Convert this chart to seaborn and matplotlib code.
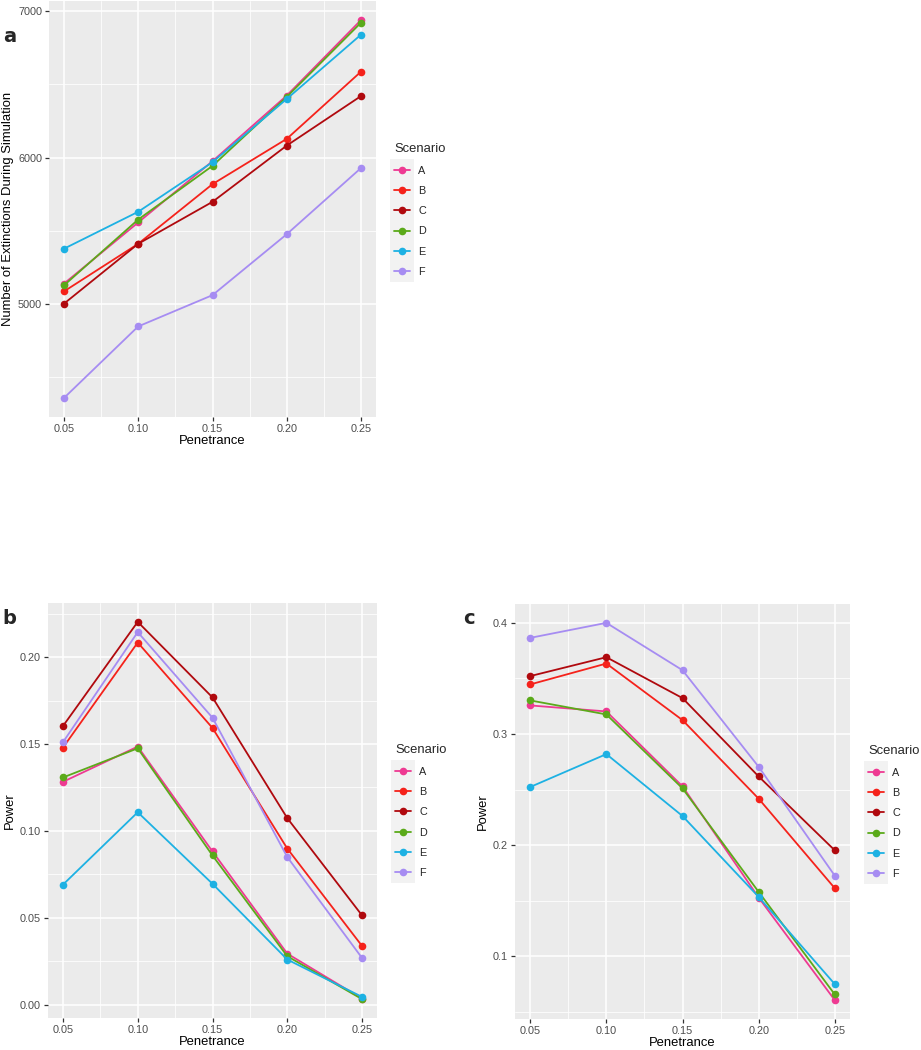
import pandas as pd
import matplotlib.pyplot as plt
import seaborn as sns
from matplotlib.patches import Rectangle

sns.set_theme(style="darkgrid")
plt.rcParams['font.family'] = ['Liberation Sans', 'DejaVu Sans']

# data
penetrance = [0.05, 0.10, 0.15, 0.20, 0.25]
scenarios = ['A', 'B', 'C', 'D', 'E', 'F']
colors = ['#EE3A92', '#F5221B', '#B0090E', '#5BAA1A', '#1DB1E3', '#A68CF2']

# panel a: number of extinctions
ext_A = [5137, 5556, 5975, 6424, 6941]
ext_B = [5084, 5410, 5818, 6128, 6588]
ext_C = [5000, 5410, 5697, 6082, 6421]
ext_D = [5125, 5576, 5943, 6415, 6923]
ext_E = [5376, 5629, 5968, 6401, 6841]
ext_F = [4355, 4845, 5059, 5476, 5929]

# panel b: power
pow_b_A = [0.1282, 0.1485, 0.0881, 0.0293, 0.0034]
pow_b_B = [0.1479, 0.2084, 0.1592, 0.0898, 0.0337]
pow_b_C = [0.1603, 0.2203, 0.1768, 0.1073, 0.0513]
pow_b_D = [0.1307, 0.1475, 0.0858, 0.0278, 0.0031]
pow_b_E = [0.0690, 0.1107, 0.0695, 0.0259, 0.0044]
pow_b_F = [0.1510, 0.2144, 0.1651, 0.0849, 0.0268]

# panel c: power
pow_c_A = [0.3257, 0.3203, 0.2529, 0.1528, 0.0605]
pow_c_B = [0.3446, 0.3634, 0.3125, 0.2418, 0.1612]
pow_c_C = [0.3521, 0.3691, 0.3323, 0.2618, 0.1953]
pow_c_D = [0.3302, 0.3176, 0.2511, 0.1579, 0.0656]
pow_c_E = [0.2523, 0.2819, 0.2262, 0.1534, 0.0749]
pow_c_F = [0.3865, 0.4000, 0.3574, 0.2705, 0.1725]


def to_long(series):
    rows = []
    for sc, vals in zip(scenarios, series):
        for p, v in zip(penetrance, vals):
            rows.append({'Penetrance': p, 'Value': v, 'Scenario': sc})
    return pd.DataFrame(rows)


df_a = to_long([ext_A, ext_B, ext_C, ext_D, ext_E, ext_F])
df_b = to_long([pow_b_A, pow_b_B, pow_b_C, pow_b_D, pow_b_E, pow_b_F])
df_c = to_long([pow_c_A, pow_c_B, pow_c_C, pow_c_D, pow_c_E, pow_c_F])

palette = dict(zip(scenarios, colors))

fig = plt.figure(figsize=(9.21, 10.5), dpi=100)
legends = []


def gg_panel(rect, df, ylabel, yticks, yticklabels, yminor, letter, letter_pos, leg_pos):
    ax = fig.add_axes(rect)
    ax.set_facecolor('#EBEBEB')
    sns.lineplot(data=df, x='Penetrance', y='Value', hue='Scenario', palette=palette,
                 marker='o', markersize=5.5, markeredgewidth=0, linewidth=1.3, ax=ax)

    # ggplot-style 5% expansion
    lo, hi = df['Value'].min(), df['Value'].max()
    pad = (hi - lo) * 0.05
    ax.set_ylim(lo - pad, hi + pad)
    ax.set_xlim(0.04, 0.26)

    ax.set_xticks(penetrance)
    ax.set_xticklabels([f"{p:.2f}" for p in penetrance])
    ax.set_xticks([0.075, 0.125, 0.175, 0.225], minor=True)
    ax.set_yticks(yticks)
    ax.set_yticklabels(yticklabels)
    ax.set_yticks(yminor, minor=True)

    ax.grid(which='major', color='white', linewidth=1.1)
    ax.grid(which='minor', color='white', linewidth=0.55)
    ax.set_axisbelow(True)
    for s in ax.spines.values():
        s.set_visible(False)
    ax.tick_params(axis='both', which='major', direction='out', length=3, width=0.9,
                   color='#333333', labelcolor='#4D4D4D', labelsize=7.8, pad=2,
                   bottom=True, left=True)
    ax.tick_params(axis='both', which='minor', length=0, bottom=False, left=False)

    ax.set_xlabel('Penetrance', fontsize=9.4, color='black', labelpad=1)
    ax.set_ylabel(ylabel, fontsize=9.4, color='black', labelpad=3)

    handles, labels = ax.get_legend_handles_labels()
    leg = ax.legend(handles, labels, title='Scenario', loc='upper left',
                    bbox_to_anchor=leg_pos, bbox_transform=fig.transFigure,
                    frameon=False, fontsize=7.8, title_fontsize=9.4,
                    handlelength=1.4, handletextpad=0.8, labelspacing=0.95,
                    borderaxespad=0, alignment='left')
    legends.append(leg)

    fig.text(letter_pos[0], letter_pos[1], letter, fontsize=14, fontweight='bold',
             ha='left', va='center', family=['DejaVu Sans'])
    return ax


ax_a = gg_panel([49 / 921, 1 - 417 / 1050, 327 / 921, 416 / 1050], df_a,
                'Number of Extinctions During Simulation',
                [5000, 6000, 7000], ['5000', '6000', '7000'], [4500, 5500, 6500],
                'a', (3 / 921, 1 - 37 / 1050), (390 / 921, 1 - 139 / 1050))

ax_b = gg_panel([48 / 921, 1 - 1018 / 1050, 329 / 921, 415 / 1050], df_b,
                'Power',
                [0.0, 0.05, 0.10, 0.15, 0.20], ['0.00', '0.05', '0.10', '0.15', '0.20'],
                [0.025, 0.075, 0.125, 0.175, 0.225],
                'b', (2 / 921, 1 - 618 / 1050), (391 / 921, 1 - 740 / 1050))

ax_c = gg_panel([515 / 921, 1 - 1019 / 1050, 335 / 921, 415 / 1050], df_c,
                'Power',
                [0.1, 0.2, 0.3, 0.4], ['0.1', '0.2', '0.3', '0.4'],
                [0.05, 0.15, 0.25, 0.35],
                'c', (463 / 921, 1 - 618 / 1050), (864 / 921, 1 - 741 / 1050))

# grey legend key backdrop like ggplot
fig.canvas.draw()
for leg in legends:
    boxes = [h.get_window_extent() for h in leg.legend_handles]
    x0 = min(b.x0 for b in boxes) - 1
    x1 = max(b.x1 for b in boxes) + 1
    y0 = min(b.y0 for b in boxes) - 7
    y1 = max(b.y1 for b in boxes) + 7
    fig.add_artist(Rectangle((x0, y0), x1 - x0, y1 - y0, transform=None,
                             facecolor='#F2F2F2', edgecolor='none', zorder=-1))

plt.savefig('out.png', dpi=100)
